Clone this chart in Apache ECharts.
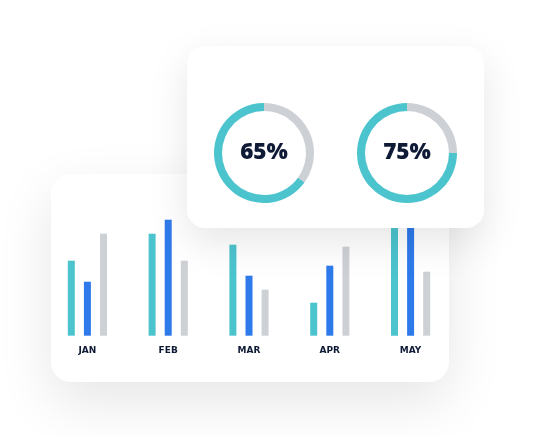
<!DOCTYPE html>
<html>
<head>
<meta charset="utf-8">
<script src="https://cdn.jsdelivr.net/npm/echarts@6/dist/echarts.min.js"></script>
<style>
html,body{margin:0;padding:0;background:#ffffff;}
#chart{width:534px;height:436px;}
</style>
</head>
<body>
<div id="chart"></div>
<script>
const months = ['JAN', 'FEB', 'MAR', 'APR', 'MAY'];
const seriesTeal = [75, 102, 91, 33, 130];
const seriesBlue = [54, 116, 60, 70, 135];
const seriesGray = [102, 75, 46, 89, 64];
const donutValues = [65, 75];

const TEAL = '#4cc4ce', BLUE = '#2f7aeb', GRAY = '#cdd0d4', NAVY = '#0f1b36';

const chart = echarts.init(document.getElementById('chart'), null, {renderer: 'canvas'});

function donut(idx, cx) {
  const v = donutValues[idx];
  return {
    type: 'pie',
    z: 10,
    center: [cx, 153],
    radius: [42, 50],
    startAngle: 90,
    clockwise: true,
    silent: true,
    avoidLabelOverlap: false,
    labelLine: {show: false},
    label: {show: false},
    emphasis: {disabled: true},
    data: [
      {value: 100 - v, itemStyle: {color: GRAY}},
      {value: v, itemStyle: {color: TEAL},
       label: {show: true, position: 'center', formatter: v + '%',
               fontFamily: 'Open Sans', fontWeight: 800, fontSize: 22.5, color: NAVY}}
    ]
  };
}

const barCommon = {
  type: 'bar',
  z: 2,
  barWidth: 7,
  silent: true
};

chart.setOption({
  animation: false,
  backgroundColor: '#ffffff',
  graphic: [
    {type: 'rect', z: 0, shape: {x: 51, y: 174, width: 398, height: 208, r: 20},
     style: {fill: '#ffffff', shadowBlur: 55, shadowOffsetY: 20, shadowColor: 'rgba(0,0,0,0.10)'}},
    {type: 'rect', z: 5, shape: {x: 187, y: 46, width: 297, height: 182, r: 18},
     style: {fill: '#ffffff', shadowBlur: 40, shadowOffsetY: 14, shadowColor: 'rgba(0,0,0,0.10)'}}
  ],
  grid: {left: 47, right: 83, top: 185.7, bottom: 100.3, containLabel: false},
  xAxis: {
    type: 'category',
    data: months,
    axisLine: {show: false},
    axisTick: {show: false},
    axisLabel: {margin: 10, fontFamily: 'DejaVu Sans', fontWeight: 'bold', fontSize: 9, color: NAVY}
  },
  yAxis: {type: 'value', min: 0, max: 150, show: false, splitLine: {show: false}},
  series: [
    Object.assign({}, barCommon, {data: seriesTeal, barGap: '130%', itemStyle: {color: TEAL}}),
    Object.assign({}, barCommon, {data: seriesBlue, barGap: '130%', itemStyle: {color: BLUE}}),
    Object.assign({}, barCommon, {data: seriesGray, barGap: '130%', itemStyle: {color: GRAY}}),
    donut(0, 264),
    donut(1, 407)
  ]
});
</script>
</body>
</html>
